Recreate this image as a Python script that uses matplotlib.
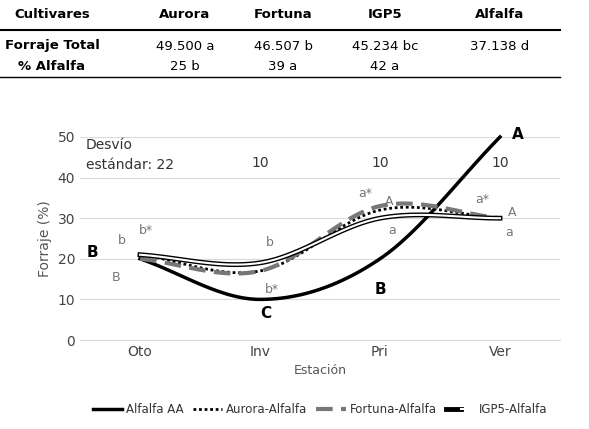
import matplotlib
matplotlib.use("Agg")
import matplotlib.pyplot as plt
from matplotlib.lines import Line2D
from matplotlib.legend_handler import HandlerTuple
import numpy as np

seasons = ["Oto", "Inv", "Pri", "Ver"]
alfalfa_aa = [20, 10, 20, 50]
aurora = [21, 17, 32, 30]
fortuna = [20, 17, 33, 30]
igp5 = [21, 19, 30, 30]
desvio = ["22", "10", "10", "10"]
table_cols = ["Cultivares", "Aurora", "Fortuna", "IGP5", "Alfalfa"]
row_forraje = ["Forraje Total", "49.500 a", "46.507 b", "45.234 bc", "37.138 d"]
row_alfalfa = ["% Alfalfa", "25 b", "39 a", "42 a", ""]

def smooth(y, n=40):
    x = np.arange(len(y), dtype=float); y = np.asarray(y, float)
    pts = np.c_[x, y]
    p = np.vstack([pts[0]*2 - pts[1], pts, pts[-1]*2 - pts[-2]])
    out = []
    for i in range(1, len(p)-2):
        p0, p1, p2, p3 = p[i-1], p[i], p[i+1], p[i+2]
        for t in np.linspace(0, 1, n, endpoint=False):
            out.append(0.5*((2*p1) + (-p0+p2)*t + (2*p0-5*p1+4*p2-p3)*t**2 + (-p0+3*p1-3*p2+p3)*t**3))
    out.append(p[-2])
    out = np.array(out)
    return out[:, 0], out[:, 1]

fig = plt.figure(figsize=(5.89, 4.29), dpi=100)
W, H = 589, 429
def ft(x, y, s, **kw):
    fig.text(x/W, 1-y/H, s, ha="center", va="center", fontsize=9.5, **kw)
xs = [52, 185, 283, 385, 500]
for x, s in zip(xs, table_cols):
    ft(x, 15, s, fontweight="bold")
for i, (x, s) in enumerate(zip(xs, row_forraje)):
    ft(x, 46, s, fontweight="bold" if i == 0 else "normal")
for i, (x, s) in enumerate(zip(xs, row_alfalfa)):
    ft(x, 66, s, fontweight="bold" if i == 0 else "normal")
fig.add_artist(Line2D([0, 560/W], [1-30/H]*2, color="black", lw=1.5))
fig.add_artist(Line2D([0, 560/W], [1-77/H]*2, color="black", lw=1))

ax = fig.add_axes([80/W, 1-340/H, 480/W, 203/H])
ax.set_xlim(-0.5, 3.5); ax.set_ylim(0, 50)
x, y = smooth(alfalfa_aa); h1, = ax.plot(x, y, color="black", lw=2.5, clip_on=False)
x, y = smooth(aurora); h2, = ax.plot(x, y, color="black", lw=2, ls=(0, (1, 1)))
x, y = smooth(fortuna); h3, = ax.plot(x, y, color="#777777", lw=3, ls=(0, (4, 2)))
x, y = smooth(igp5)
h4a, = ax.plot(x, y, color="black", lw=3.5)
h4b, = ax.plot(x, y, color="white", lw=1.5)
ax.set_yticks(range(0, 51, 10))
ax.set_xticks(range(4)); ax.set_xticklabels(seasons)
ax.tick_params(length=0, labelsize=10, colors="#444444")
ax.grid(axis="y", color="#d9d9d9", lw=0.8)
ax.set_axisbelow(True)
for s in ["top", "right", "left"]:
    ax.spines[s].set_visible(False)
ax.spines["bottom"].set_color("#d9d9d9")
ax.set_ylabel("Forraje (%)", color="#555555", fontsize=10)
ax.set_xlabel("Estación", color="#555555", fontsize=9)
ax.text(-0.45, 47, "Desvío", fontsize=10, color="#333333")
ax.text(-0.45, 42, "estándar: 22", fontsize=10, color="#333333")
for i in range(1, 4):
    ax.text(i, 42.5, desvio[i], fontsize=10, color="#333333", ha="center")
g = "#777777"
ann = [(-0.4, 21.5, "B", "black", True, 11), (-0.15, 24.5, "b", g, False, 9), (0.05, 27, "b*", g, False, 9),
       (-0.2, 15.5, "B", g, False, 9), (1.08, 24, "b", g, False, 9), (1.1, 12.5, "b*", g, False, 9),
       (1.05, 6.5, "C", "black", True, 11), (2.0, 12.5, "B", "black", True, 11), (1.88, 36, "a*", g, False, 9),
       (2.08, 34, "A", g, False, 9), (2.1, 27, "a", g, False, 9), (2.85, 34.5, "a*", g, False, 9),
       (3.1, 31.5, "A", g, False, 9), (3.08, 26.5, "a", g, False, 9), (3.15, 50.5, "A", "black", True, 11)]
for xx, yy, s, c, b, fs in ann:
    ax.text(xx, yy, s, color=c, fontsize=fs, fontweight="bold" if b else "normal", ha="center", va="center")
ax.legend([h1, h2, h3, (h4a, h4b)], ["Alfalfa AA", "Aurora-Alfalfa", "Fortuna-Alfalfa", "IGP5-Alfalfa"],
          handler_map={tuple: HandlerTuple(ndivide=None, pad=0)},
          loc="upper center", bbox_to_anchor=(0.5, -0.26), ncol=4, frameon=False, fontsize=8.5,
          handlelength=2.5, columnspacing=0.8, handletextpad=0.3, labelcolor="#333333")
fig.savefig("out.png", dpi=100)
